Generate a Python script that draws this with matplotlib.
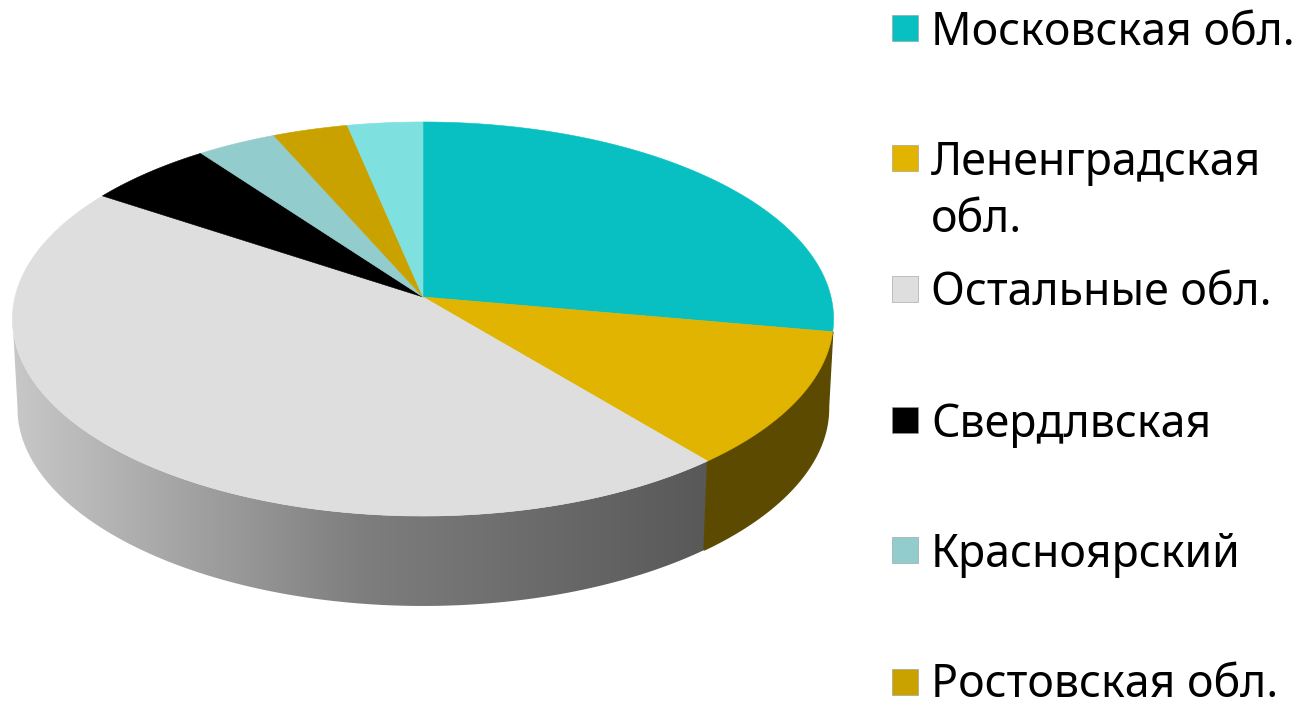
import numpy as np
import matplotlib
matplotlib.use('Agg')
import matplotlib.pyplot as plt
from matplotlib.patches import Polygon, Rectangle

# доли регионов, %
values = [27.8, 11.2, 45.3, 5.6, 3.5, 3.3, 3.3]
labels = ['Московская обл.', 'Лененградская\nобл.', 'Остальные обл.',
          'Свердлвская', 'Красноярский', 'Ростовская обл.']
colors = ['#08C0C2', '#E0B400', '#DEDEDE', '#000000',
          '#92CCCC', '#C9A200', '#7FE0E0']

legend_y = [28, 158, 289, 420, 550, 682]
baseline_y = [45, 175, 305, 437, 567, 697]

W, H = 1301, 702
cx = 423


def project(theta, R, a, b, c, c_x):
    # theta в градусах, 0 = верх, по часовой. перспектива круга
    t = np.radians(theta)
    u = np.sin(t)
    v = -np.cos(t)
    return np.column_stack([cx + R * u / (1 + c_x * v),
                            (a * v + b) / (1 + c * v)])


def top(theta):
    return project(theta, 408, 161.4, 297, -0.1117, -0.1117)


def bottom(theta):
    return project(theta, 403, 140.4, 386.8, -0.13, -0.1117)


fig = plt.figure(figsize=(W / 100, H / 100), dpi=100)
ax = fig.add_axes([0, 0, 1, 1])

edges = np.concatenate([[0], np.cumsum(values)]) / np.sum(values) * 360

# боковая грань: серый сектор с градиентом
th = np.linspace(edges[2], 264, 120)
th_b = np.linspace(264, edges[2], 120)
side = Polygon(np.vstack([top(th), bottom(th_b)]), closed=True,
               fc='none', ec='none', zorder=1)
ax.add_patch(side)
grad = np.linspace(0, 1, 256).reshape(1, -1)
img = ax.imshow(grad, extent=[12, 712, 620, 300], aspect='auto',
                cmap=matplotlib.colors.LinearSegmentedColormap.from_list(
                    'side', ['#C8C8C8', '#7E7E7E', '#585858']),
                zorder=1)
img.set_clip_path(side)

# боковая грань: золотой сектор (поверх серого, чтобы не было щели)
th = np.linspace(edges[1], edges[2], 80)
th_b = np.linspace(edges[2], 96, 80)
ax.add_patch(Polygon(np.vstack([top(th), bottom(th_b)]), closed=True,
                     fc='#5C4A00', ec='#5C4A00', lw=1.0, zorder=1.5))

# верхняя грань
apex = np.array([[cx, 297]])
for i, val in enumerate(values):
    th = np.linspace(edges[i], edges[i + 1], 100)
    ax.add_patch(Polygon(np.vstack([apex, top(th)]), closed=True,
                         fc=colors[i], ec=colors[i], lw=0.4, zorder=2))

# легенда
for lab, col, ly, by in zip(labels, colors, legend_y, baseline_y):
    ax.add_patch(Rectangle((892, ly - 13), 26, 26, fc=col, ec='#999999',
                           lw=0.4, zorder=3))
    for k, line in enumerate(lab.split('\n')):
        ax.text(931, by + 57 * k, line, fontsize=32.2, family='Noto Sans',
                color='black', va='baseline', ha='left')

ax.set_xlim(0, W)
ax.set_ylim(H, 0)
ax.axis('off')

plt.savefig('out.png', dpi=100)
